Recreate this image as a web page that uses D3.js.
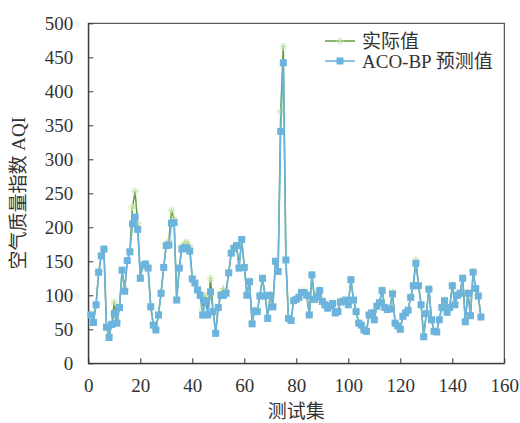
<!DOCTYPE html>
<html>
<head>
<meta charset="utf-8">
<script src="https://cdn.jsdelivr.net/npm/d3@7"></script>
<style>
  body { margin: 0; background: #fff; }
  text { font-family: "Liberation Serif", "Noto Sans CJK SC", serif; fill: #333; }
</style>
</head>
<body>
<svg id="chart" width="520" height="423"></svg>
<script>
// predicted AQI (ACO-BP), test samples 1..151
var predicted = [71, 60, 86, 134, 158, 168, 53, 38, 57, 73,
  59, 82, 137, 106, 151, 164, 205, 215, 197, 125,
  144, 146, 140, 83, 56, 49, 71, 103, 141, 173,
  174, 206, 207, 93, 140, 168, 170, 169, 165, 124,
  118, 108, 100, 71, 92, 71, 105, 76, 44, 82,
  100, 100, 103, 133, 162, 169, 173, 140, 182, 141,
  100, 120, 58, 77, 76, 99, 125, 99, 66, 100,
  83, 150, 135, 341, 442, 152, 66, 63, 92, 94,
  97, 104, 104, 100, 71, 130, 94, 98, 107, 91,
  86, 81, 84, 88, 74, 76, 90, 91, 93, 86,
  123, 93, 76, 59, 56, 49, 47, 71, 74, 64,
  84, 89, 107, 82, 79, 80, 102, 59, 55, 50,
  69, 74, 78, 97, 114, 147, 114, 86, 39, 73,
  109, 64, 47, 46, 64, 82, 92, 75, 82, 114,
  86, 100, 103, 125, 61, 103, 70, 134, 110, 99,
  68];

// actual AQI
var actual = [72, 62, 88, 135, 158, 168, 55, 40, 60, 90,
  62, 84, 136, 110, 150, 166, 230, 253, 205, 127,
  145, 146, 141, 85, 58, 50, 73, 104, 142, 175,
  180, 225, 212, 95, 141, 172, 177, 178, 172, 126,
  118, 110, 104, 80, 100, 75, 125, 78, 45, 84,
  104, 110, 105, 134, 163, 170, 174, 142, 182, 142,
  102, 121, 60, 78, 78, 100, 125, 100, 68, 101,
  85, 150, 136, 370, 466, 152, 66, 64, 93, 95,
  100, 106, 106, 102, 72, 130, 96, 104, 108, 92,
  88, 82, 86, 88, 75, 77, 91, 92, 94, 87,
  123, 94, 77, 60, 57, 50, 48, 72, 75, 65,
  85, 90, 108, 84, 80, 82, 104, 60, 56, 51,
  70, 75, 79, 98, 115, 152, 116, 87, 40, 74,
  110, 65, 48, 47, 65, 83, 93, 76, 84, 115,
  88, 101, 104, 126, 62, 104, 71, 135, 111, 100,
  69];

var xTicks = [0, 20, 40, 60, 80, 100, 120, 140, 160];
var yTicks = [0, 50, 100, 150, 200, 250, 300, 350, 400, 450, 500];
var seriesNames = ["实际值", "ACO-BP 预测值"];

var plotL = 88.3, plotR = 504.3, plotT = 23.3, plotB = 363.3;
var fs = 19;
var svg = d3.select("#chart");

var x = d3.scaleLinear().domain([0, 160]).range([plotL, plotR]);
var y = d3.scaleLinear().domain([0, 500]).range([plotB, plotT]);

var green = "#5f9e3f", greenStar = "#bfe0a3", blue = "#6cb4dd";

// frame
svg.append("rect")
  .attr("x", plotL).attr("y", plotT)
  .attr("width", plotR - plotL).attr("height", plotB - plotT)
  .attr("fill", "none").attr("stroke", "#333").attr("stroke-width", 1);

// axes with inward ticks
var xAxis = svg.append("g").attr("transform", "translate(0," + plotB + ")")
  .call(d3.axisBottom(x).tickValues(xTicks).tickSizeInner(-5).tickSizeOuter(0).tickPadding(15));
var yAxis = svg.append("g").attr("transform", "translate(" + plotL + ",0)")
  .call(d3.axisLeft(y).tickValues(yTicks).tickSizeInner(-5).tickSizeOuter(0).tickPadding(15));
[xAxis, yAxis].forEach(function(g) {
  g.select(".domain").attr("stroke", "#333");
  g.selectAll(".tick line").attr("stroke", "#333");
  g.selectAll(".tick text").attr("font-size", fs).attr("fill", "#333")
    .attr("font-family", "Liberation Serif, serif");
});

var pts = function(arr) { return arr.map(function(v, i) { return [i + 1, v]; }); };
var line = d3.line().x(function(d) { return x(d[0]); }).y(function(d) { return y(d[1]); });

// actual series
svg.append("path").datum(pts(actual))
  .attr("d", line).attr("fill", "none").attr("stroke", green).attr("stroke-width", 1.5);

function star(g, cx, cy, r) {
  for (var k = 0; k < 4; k++) {
    var a = k * Math.PI / 4;
    g.append("line")
      .attr("x1", cx - r * Math.cos(a)).attr("y1", cy - r * Math.sin(a))
      .attr("x2", cx + r * Math.cos(a)).attr("y2", cy + r * Math.sin(a))
      .attr("stroke", greenStar).attr("stroke-width", 0.9);
  }
}
var stars = svg.append("g");
pts(actual).forEach(function(d) { star(stars, x(d[0]), y(d[1]), 4); });

// predicted series
svg.append("path").datum(pts(predicted))
  .attr("d", line).attr("fill", "none").attr("stroke", blue).attr("stroke-width", 1.6);
svg.append("g").selectAll("rect").data(pts(predicted)).join("rect")
  .attr("x", function(d) { return x(d[0]) - 3.5; })
  .attr("y", function(d) { return y(d[1]) - 3.5; })
  .attr("width", 7).attr("height", 7)
  .attr("fill", blue);

// legend
var lg = svg.append("g");
lg.append("line").attr("x1", 325).attr("x2", 355).attr("y1", 41).attr("y2", 41)
  .attr("stroke", green).attr("stroke-width", 1.5);
star(lg, 340, 41, 4);
lg.append("line").attr("x1", 325).attr("x2", 355).attr("y1", 61).attr("y2", 61)
  .attr("stroke", blue).attr("stroke-width", 1.6);
lg.append("rect").attr("x", 336.5).attr("y", 57.5).attr("width", 7).attr("height", 7).attr("fill", blue);
lg.selectAll("text").data(seriesNames).join("text")
  .attr("x", 362).attr("y", function(d, i) { return 48 + i * 20; })
  .attr("font-size", fs)
  .text(function(d) { return d; });

// axis titles
svg.append("text").attr("x", (plotL + plotR) / 2).attr("y", 418)
  .attr("text-anchor", "middle").attr("font-size", fs).text("测试集");
svg.append("text")
  .attr("transform", "translate(25," + ((plotT + plotB) / 2) + ") rotate(-90)")
  .attr("text-anchor", "middle").attr("font-size", fs).text("空气质量指数 AQI");
</script>
</body>
</html>
